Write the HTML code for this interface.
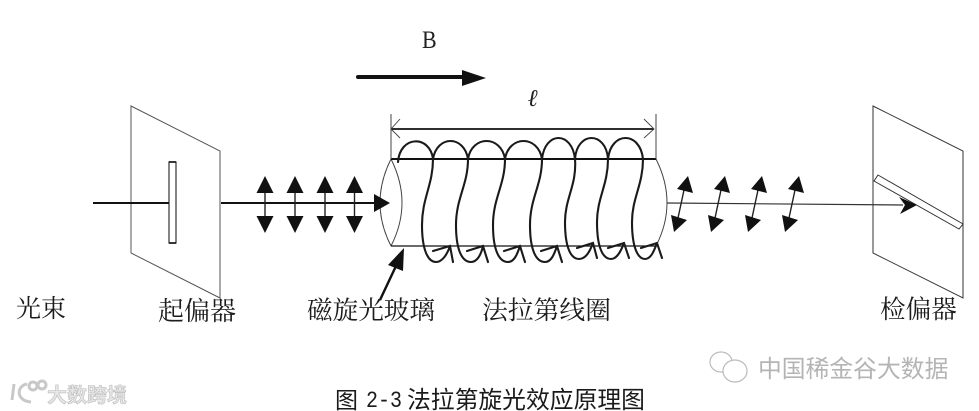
<!DOCTYPE html>
<html><head><meta charset="utf-8"><style>
html,body{margin:0;padding:0;background:#fff}
svg{display:block}
.s{font-family:"Liberation Serif","Noto Serif CJK SC",serif;font-size:25px;fill:#1c1c1c;font-weight:400}
.c{font-family:"Liberation Sans","Noto Sans CJK SC",sans-serif;font-size:23px;fill:#1a1a1a}
.w{font-family:"Liberation Sans","Noto Sans CJK SC",sans-serif;fill:#b4b4b4}
.v{font-family:"Liberation Sans","Noto Sans CJK SC",sans-serif;fill:#e6e6e6;stroke:#bcbcbc;stroke-width:.6;font-weight:700}
</style></head><body>
<svg width="979" height="411" viewBox="0 0 979 411" xmlns="http://www.w3.org/2000/svg">
<rect width="979" height="411" fill="#fff"/>
<defs>
<g id="da"><line x1="0" y1="190" x2="0" y2="218" stroke="#222" stroke-width="1.4"/><polygon points="0,176 8.5,193 -8.5,193" fill="#111"/><polygon points="0,233 8.5,216 -8.5,216" fill="#111"/></g>
<g id="sa"><line x1="684" y1="190" x2="678" y2="218" stroke="#222" stroke-width="1.4"/><polygon points="688,176 693,193 677,189" fill="#111"/><polygon points="674,232 671,215 687,220" fill="#111"/></g>
</defs>

<!-- polarizer -->
<polygon points="131,106 220,151 220,298 131,253" fill="none" stroke="#555" stroke-width="1"/>
<rect x="169" y="162" width="7" height="81" fill="#fff" stroke="#333" stroke-width="1.2"/>
<line x1="169" y1="162" x2="176" y2="162" stroke="#111" stroke-width="1.6"/>
<line x1="169" y1="243" x2="176" y2="243" stroke="#111" stroke-width="1.6"/>
<line x1="93" y1="203" x2="169" y2="203" stroke="#111" stroke-width="2"/>
<line x1="221" y1="203" x2="378" y2="203" stroke="#111" stroke-width="2"/>
<use href="#da" x="265"/><use href="#da" x="295"/><use href="#da" x="325"/><use href="#da" x="354.5"/>

<!-- cylinder -->
<path d="M391 159 Q369 203 391 246" fill="none" stroke="#444" stroke-width="1"/>
<path d="M391 159 Q413 203 391 246" fill="none" stroke="#444" stroke-width="1"/>
<path d="M656 159 Q678 203 656 246" fill="none" stroke="#444" stroke-width="1"/>
<line x1="391" y1="159" x2="656" y2="159" stroke="#111" stroke-width="2"/>
<line x1="391" y1="246" x2="656" y2="246" stroke="#111" stroke-width="1.3"/>
<polygon points="390,203 374,194 374,212" fill="#111"/>

<!-- dimension -->
<line x1="391" y1="114" x2="391" y2="159" stroke="#444" stroke-width="1"/>
<line x1="656" y1="114" x2="656" y2="159" stroke="#444" stroke-width="1"/>
<line x1="391" y1="129" x2="654" y2="129" stroke="#111" stroke-width="1.8"/>
<path d="M400 119 L391 129 L400 138 M644 119 L654 129 L644 138" fill="none" stroke="#444" stroke-width="0.9"/>

<!-- coil -->
<g fill="none" stroke="#1a1a1a" stroke-width="2.1" stroke-linecap="round">
<path d="M398 162 C400 135 430 135 433 159 C437 135 464 135 468 159 C472 135 501 135 505 159 C509 135 538 135 542 159 C545 131 572 131 575 159 M575 159 C577 131 606 131 608 159 C611 131 640 131 643 159"/>
<path d="M433 159 C433 185 422 198 422 225 C422 250 428 262 436 262 C442 262 447 255 450 246 M433 251 L450 246 L453 262"/>
<path d="M468 159 C468 185 456 198 456 225 C456 250 462 262 471 262 C477 262 481 255 483 246 M467 251 L483 246 L488 262"/>
<path d="M505 159 C505 185 493 198 493 225 C493 250 499 262 508 262 C514 262 517 255 520 246 M504 251 L520 246 L525 262"/>
<path d="M542 159 C542 185 530 198 530 225 C530 250 536 262 545 262 C551 262 554 255 557 246 M541 251 L557 246 L562 262"/>
<path d="M575 159 C577 185 565 198 565 222 C565 248 571 259 579 259 C586 259 590 251 593 243 M577 248 L593 243 L597 258"/>
<path d="M608 159 C608 185 597 198 597 222 C597 248 603 259 611 259 C617 259 621 251 624 243 M608 248 L624 243 L629 258"/>
<path d="M643 159 C643 185 632 198 632 222 C632 248 638 259 645 259 C651 259 654 251 657 243 M641 248 L657 243 L662 258"/>
</g>

<!-- glass pointer -->
<line x1="380" y1="300" x2="396" y2="266" stroke="#111" stroke-width="2.4"/>
<polygon points="404,248 388,265 403,271" fill="#111"/>

<!-- B arrow -->
<line x1="358" y1="77" x2="465" y2="77" stroke="#111" stroke-width="4" stroke-linecap="round"/>
<polygon points="486,78 462,70 462,86" fill="#111"/>
<text transform="translate(422 48) scale(1 1.15)" font-family="Liberation Serif,serif" font-size="22" fill="#222">B</text>
<text x="528" y="106" font-family="DejaVu Serif,Liberation Serif,serif" font-style="italic" font-size="24" font-weight="bold" fill="#222">ℓ</text>

<!-- output beam -->
<line x1="667" y1="203" x2="903" y2="205" stroke="#333" stroke-width="1.2"/>
<use href="#sa"/><use href="#sa" x="37"/><use href="#sa" x="74"/><use href="#sa" x="111"/>

<!-- analyzer -->
<polygon points="873,106 963,151 963,298 873,253" fill="none" stroke="#333" stroke-width="1"/>
<polygon points="878,175 963,224 959,229 874,181" fill="#fff" stroke="#333" stroke-width="1"/>
<polygon points="917,205 899,197 905,205 900,214" fill="#111"/>

<!-- labels -->
<text class="s" x="16" y="317">光束</text>
<text class="s" x="158" y="320" style="font-size:26px">起偏器</text>
<text class="s" x="307" y="319" style="font-size:25.6px">磁旋光玻璃</text>
<text class="s" x="482" y="319" style="font-size:25.8px">法拉第线圈</text>
<text class="s" x="880" y="318" style="font-size:25.6px">检偏器</text>

<!-- caption -->
<text class="c" x="335" y="408">图</text>
<text x="366" y="407" font-family="Liberation Mono,monospace" font-size="23" textLength="36" lengthAdjust="spacingAndGlyphs" fill="#1a1a1a">2-3</text>
<text class="c" x="407" y="408" style="font-size:23.8px">法拉第旋光效应原理图</text>

<!-- watermarks -->
<text class="w" x="758" y="377" font-size="23.8">中国稀金谷大数据</text>
<g fill="#fff" stroke="#bbb" stroke-width="1.2">
<ellipse cx="721" cy="362" rx="11" ry="10"/>
<ellipse cx="735" cy="371" rx="12" ry="11"/>
</g>
<text class="v" x="47" y="402" font-size="20">大数跨境</text>
<g fill="none" stroke="#c8c8c8" stroke-width="3">
<path d="M14 384 L12 400"/>
<path d="M27 384 C16 386 16 401 31 402"/>
<circle cx="33" cy="386" r="4"/>
<circle cx="42" cy="385" r="4"/>
</g>
</svg>
</body></html>
